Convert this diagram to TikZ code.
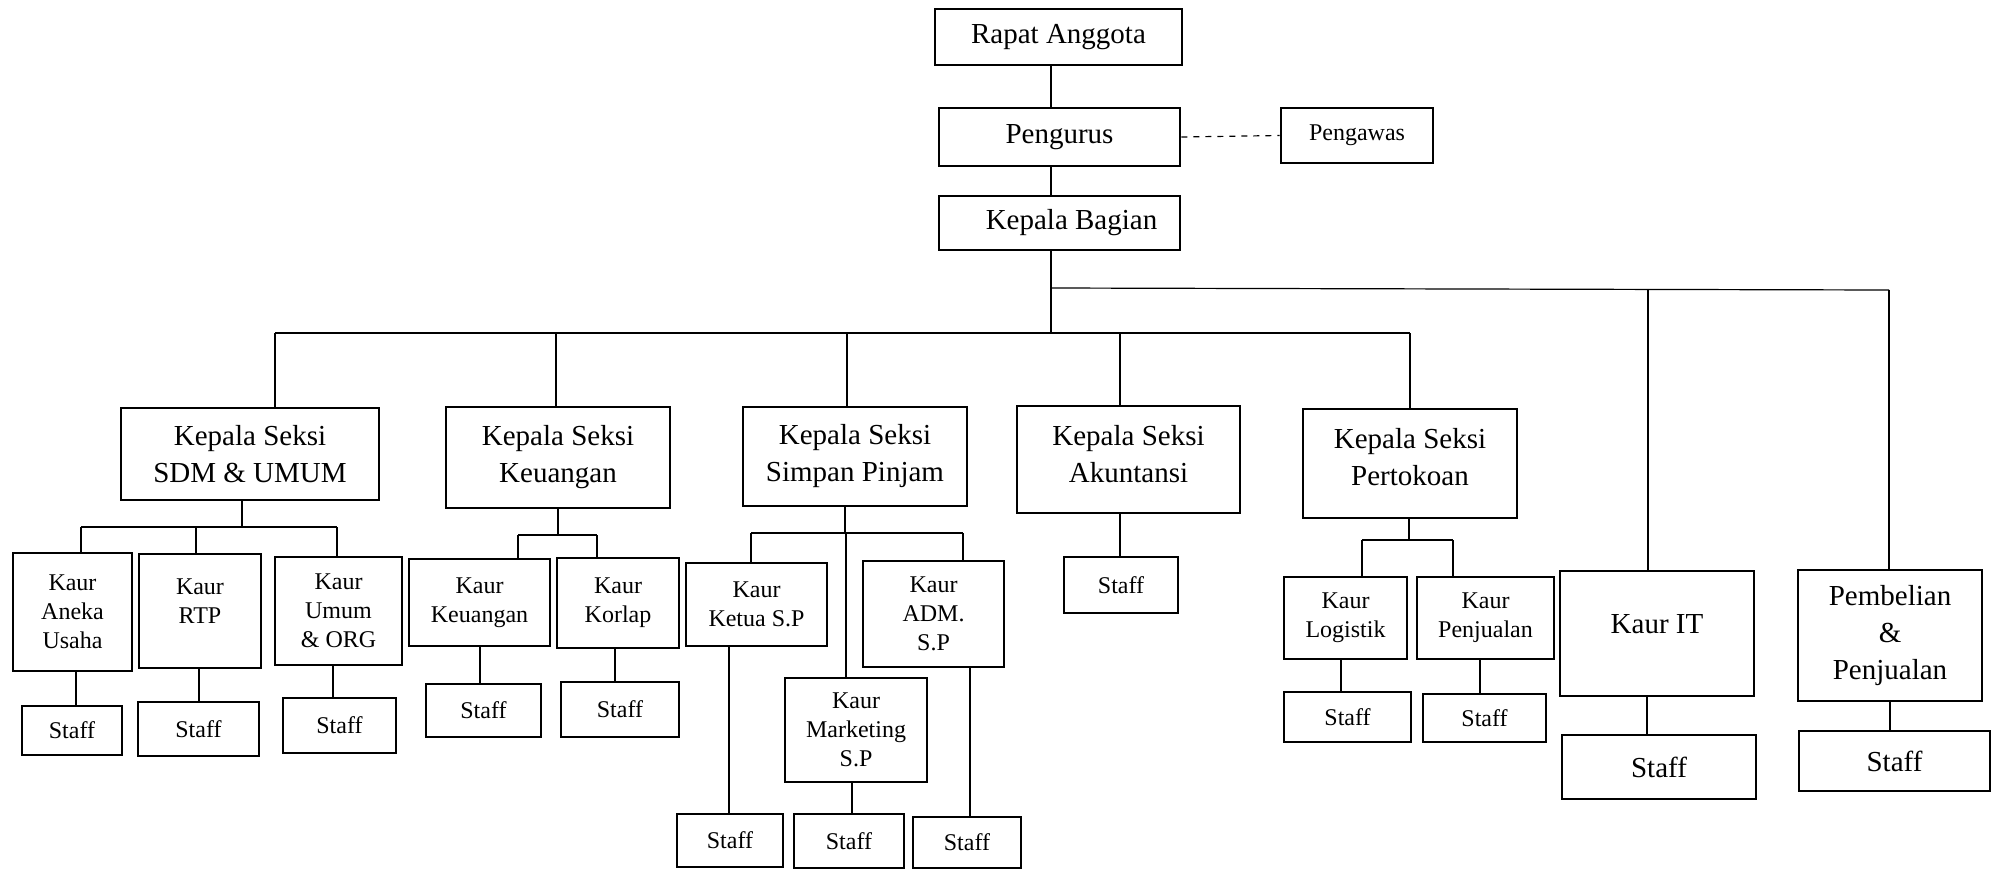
\documentclass[tikz,border=0pt]{standalone}
\usepackage{fontspec}
\setmainfont{Liberation Serif}

\tikzset{
  box/.style={draw, line width=1.3pt, align=center, inner sep=0pt},
  sz/.style 2 args={minimum width=#1*0.5pt, minimum height=#2*0.5pt},
  big/.style={font=\fontsize{14.5}{18.5}\selectfont},
  small/.style={font=\fontsize{12}{14.5}\selectfont},
  link/.style={line width=0.6pt},
}

\begin{document}
\begin{tikzpicture}[x=0.5pt, y=-0.5pt]
  \useasboundingbox (0,0) rectangle (1995,868);

  % top of the chart
  \node[box, big, sz={247}{56}] (rapat) at (1058.5,37) {Rapat Anggota};
  \node[box, big, sz={241}{58}] (pengurus) at (1059.5,137) {Pengurus};
  \node[box, small, sz={152}{55}] (pengawas) at (1357,135.5) {Pengawas};
  \node[box, big, sz={241}{54}] (kabag) at (1059.5,223) {\hspace*{12pt}Kepala Bagian};

  % kepala seksi
  \node[box, big, sz={258}{92}] (ksSdm) at (250,454) {Kepala Seksi\\SDM \& UMUM};
  \node[box, big, sz={224}{101}] (ksKeu) at (558,457.5) {Kepala Seksi\\Keuangan};
  \node[box, big, sz={224}{99}] (ksSp) at (855,456.5) {Kepala Seksi\\Simpan Pinjam};
  \node[box, big, sz={223}{107}, text depth=6pt] (ksAk) at (1128.5,459.5) {Kepala Seksi\\Akuntansi};
  \node[box, big, sz={214}{109}, text depth=7pt] (ksTok) at (1410,463.5) {Kepala Seksi\\Pertokoan};

  % kaur
  \node[box, small, sz={119}{118}] (kAneka) at (72.5,612) {Kaur\\Aneka\\Usaha};
  \node[box, small, sz={122}{114}, text depth=10pt] (kRtp) at (200,611) {Kaur\\RTP};
  \node[box, small, sz={127}{108}] (kUmum) at (338.5,611) {Kaur\\Umum\\\& ORG};
  \node[box, small, sz={141}{87}] (kKeu) at (479.5,602.5) {Kaur\\Keuangan};
  \node[box, small, sz={122}{90}] (kKorlap) at (618,603) {Kaur\\Korlap};
  \node[box, small, sz={141}{83}] (kKetua) at (756.5,604.5) {Kaur\\Ketua S.P};
  \node[box, small, sz={141}{106}] (kAdm) at (933.5,614) {Kaur\\ADM.\\S.P};
  \node[box, small, sz={142}{104}] (kMkt) at (856,730) {Kaur\\Marketing\\S.P};
  \node[box, small, sz={123}{82}] (kLog) at (1345.5,618) {Kaur\\Logistik};
  \node[box, small, sz={137}{82}] (kPenj) at (1485.5,618) {Kaur\\Penjualan};
  \node[box, big, sz={194}{125}, text depth=10pt] (kIt) at (1657,633.5) {Kaur IT};
  \node[box, big, sz={184}{131}] (kBeli) at (1890,635.5) {Pembelian\\\&\\Penjualan};

  % staff
  \foreach \n/\x/\y/\w/\h in {sAneka/72/730.5/100/49, sRtp/198.5/729/121/54,
      sUmum/339.5/725.5/113/55, sKeu/483.5/710.5/115/53, sKorlap/620/709.5/118/55,
      sKetua/730/840.5/106/53, sMkt/849/841/110/54, sAdm/967/842.5/108/51,
      sAk/1121/585/114/56, sLog/1347.5/717/127/50, sPenj/1484.5/718/123/48}
    \node[box, small, sz={\w}{\h}] (\n) at (\x,\y) {Staff};
  \node[box, big, sz={194}{64}] (sIt) at (1659,767) {Staff};
  \node[box, big, sz={191}{60}] (sBeli) at (1894.5,761) {Staff};

  % trunk
  \coordinate (up) at (1051,288);
  \coordinate (trunk) at (1051,333);
  \draw[line width=1.1pt] (rapat.south -| trunk) -- (pengurus.north -| trunk);
  \draw[link] (pengurus.south -| trunk) -- (kabag.north -| trunk);
  \draw[link, dashed] (pengurus.east) -- (pengawas.west);
  \draw[link] (kabag.south -| trunk) -- (trunk);

  % bars
  \draw[link] (up) -- (1889,290);
  \draw[link] (275,333) -- (1410,333);
  \draw[link] (81,527) -- (337,527);
  \draw[link] (518,535) -- (597,535);
  \draw[link] (751,533) -- (963,533);
  \draw[link] (1362,540) -- (1453,540);

  % stems from a head down to its bar
  \foreach \n/\x/\y in {ksSdm/242/527, ksKeu/558/535, ksSp/845/533, ksTok/1409/540}
  {
    \coordinate (c) at (\x,\y);
    \draw[link] (\n.south -| c) -- (c);
  }

  % drops from the bars
  \foreach \x/\y/\n in {275/333/ksSdm, 556/333/ksKeu, 847/333/ksSp, 1120/333/ksAk,
      1410/333/ksTok, 81/527/kAneka, 196/527/kRtp, 337/527/kUmum, 518/535/kKeu,
      597/535/kKorlap, 751/533/kKetua, 963/533/kAdm, 846/533/kMkt, 1362/540/kLog,
      1453/540/kPenj, 1648/289/kIt, 1889/290/kBeli}
  {
    \coordinate (c) at (\x,\y);
    \draw[link] (c) -- (c |- \n.north);
  }

  % staff stems
  \foreach \x/\k/\s in {76/kAneka/sAneka, 199/kRtp/sRtp, 333/kUmum/sUmum,
      480/kKeu/sKeu, 615/kKorlap/sKorlap, 729/kKetua/sKetua, 852/kMkt/sMkt,
      970/kAdm/sAdm, 1120/ksAk/sAk, 1341/kLog/sLog, 1480/kPenj/sPenj,
      1647/kIt/sIt, 1890/kBeli/sBeli}
  {
    \coordinate (c) at (\x,0);
    \draw[link] (c |- \k.south) -- (c |- \s.north);
  }
\end{tikzpicture}
\end{document}
